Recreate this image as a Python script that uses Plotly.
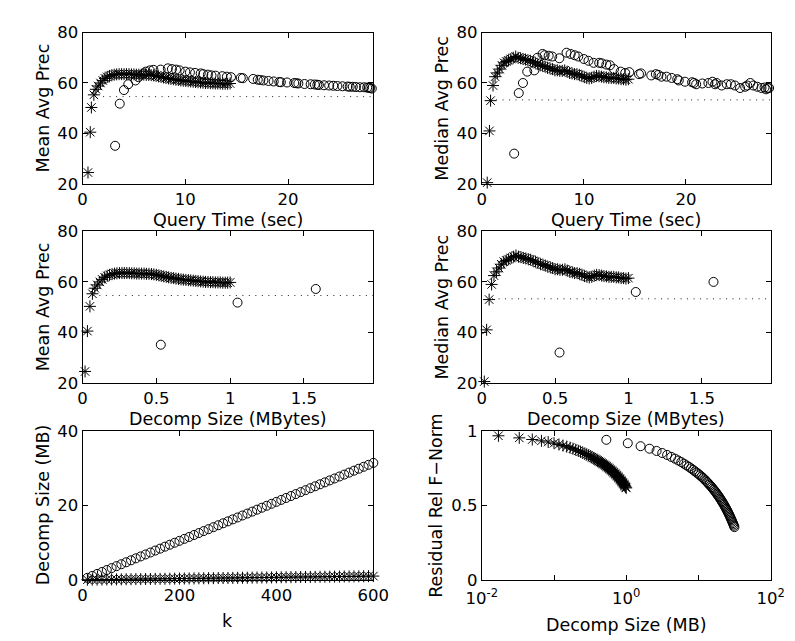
import plotly.graph_objects as go

# ---------------- data ----------------
k = [10, 20, 30, 40, 50, 60, 70, 80, 90, 100, 110, 120, 130, 140, 150, 160, 170, 180, 190, 200,
     210, 220, 230, 240, 250, 260, 270, 280, 290, 300, 310, 320, 330, 340, 350, 360, 370, 380, 390, 400,
     410, 420, 430, 440, 450, 460, 470, 480, 490, 500, 510, 520, 530, 540, 550, 560, 570, 580, 590, 600]

size_star = [0.017, 0.033, 0.050, 0.067, 0.083, 0.100, 0.117, 0.133, 0.150, 0.167,
             0.183, 0.200, 0.217, 0.233, 0.250, 0.267, 0.283, 0.300, 0.317, 0.333,
             0.350, 0.367, 0.383, 0.400, 0.417, 0.433, 0.450, 0.467, 0.483, 0.500,
             0.517, 0.533, 0.550, 0.567, 0.583, 0.600, 0.617, 0.633, 0.650, 0.667,
             0.683, 0.700, 0.717, 0.733, 0.750, 0.767, 0.783, 0.800, 0.817, 0.833,
             0.850, 0.867, 0.883, 0.900, 0.917, 0.933, 0.950, 0.967, 0.983, 1.000]

size_circ = [0.53, 1.05, 1.58, 2.10, 2.63, 3.15, 3.68, 4.20, 4.73, 5.25,
             5.78, 6.30, 6.83, 7.35, 7.88, 8.40, 8.93, 9.45, 9.98, 10.50,
             11.03, 11.55, 12.08, 12.60, 13.13, 13.65, 14.18, 14.70, 15.23, 15.75,
             16.28, 16.80, 17.33, 17.85, 18.38, 18.90, 19.43, 19.95, 20.48, 21.00,
             21.53, 22.05, 22.58, 23.10, 23.63, 24.15, 24.68, 25.20, 25.73, 26.25,
             26.78, 27.30, 27.83, 28.35, 28.88, 29.40, 29.93, 30.45, 30.98, 31.50]

qt_star = [0.53, 0.75, 0.86, 1.10, 1.30, 1.52, 1.75, 1.97, 2.18, 2.40,
           2.62, 2.85, 3.08, 3.32, 3.56, 3.80, 4.04, 4.28, 4.52, 4.76,
           5.00, 5.24, 5.48, 5.72, 5.96, 6.20, 6.44, 6.68, 6.92, 7.16,
           7.40, 7.64, 7.88, 8.12, 8.36, 8.60, 8.84, 9.08, 9.32, 9.56,
           9.80, 10.04, 10.28, 10.52, 10.76, 11.00, 11.24, 11.48, 11.72, 11.96,
           12.20, 12.44, 12.68, 12.92, 13.16, 13.40, 13.64, 13.88, 14.12, 14.36]

qt_circ = [3.17, 3.62, 4.03, 4.45, 5.15, 5.45, 5.95, 6.15, 6.55, 6.90,
           7.60, 8.30, 8.70, 9.10, 9.45, 10.00, 10.45, 10.95, 11.50, 11.75,
           12.20, 12.55, 12.95, 13.60, 14.05, 14.45, 15.40, 15.60, 16.60, 17.05,
           17.30, 17.60, 18.10, 18.60, 19.15, 19.30, 19.90, 20.60, 20.80, 21.00,
           21.60, 22.20, 22.60, 22.85, 23.00, 23.50, 24.00, 24.40, 24.80, 25.30,
           25.80, 26.00, 26.30, 26.60, 27.00, 27.40, 27.70, 27.85, 28.00, 28.15]

map_star = [24.5, 40.5, 50.3, 55.3, 57.5, 58.8, 60.0, 61.0, 61.8, 62.4,
            62.8, 63.1, 63.3, 63.4, 63.5, 63.5, 63.5, 63.5, 63.5, 63.4,
            63.4, 63.3, 63.3, 63.3, 63.3, 63.2, 63.2, 63.1, 63.0, 62.8,
            62.6, 62.4, 62.2, 62.0, 61.8, 61.6, 61.5, 61.3, 61.2, 61.0,
            60.9, 60.8, 60.7, 60.6, 60.5, 60.4, 60.3, 60.2, 60.1, 60.0,
            60.0, 59.9, 59.9, 59.8, 59.8, 59.8, 59.7, 59.7, 59.7, 59.8]

map_circ = [35.1, 51.8, 57.2, 59.5, 61.0, 62.3, 63.8, 64.5, 65.0, 65.2,
            65.3, 65.8, 65.5, 65.3, 65.0, 64.5, 64.2, 64.0, 63.8, 63.5,
            63.3, 63.0, 62.9, 62.7, 62.5, 62.3, 62.0, 61.9, 61.6, 61.3,
            61.2, 61.0, 60.8, 60.6, 60.4, 60.3, 60.2, 60.0, 59.9, 59.8,
            59.6, 59.5, 59.4, 59.3, 59.2, 59.1, 59.0, 58.9, 58.8, 58.7,
            58.6, 58.5, 58.5, 58.4, 58.3, 58.3, 58.2, 58.1, 58.0, 57.8]

med_star = [20.5, 41.0, 53.0, 59.0, 62.5, 64.0, 65.5, 67.0, 68.0, 68.5,
            69.0, 69.5, 70.0, 70.5, 70.0, 69.8, 69.5, 69.3, 69.0, 68.8,
            68.3, 68.0, 67.5, 67.0, 66.8, 66.5, 66.0, 65.8, 65.5, 65.0,
            65.0, 64.8, 64.8, 65.0, 64.5, 64.0, 63.8, 63.5, 63.5, 63.2,
            62.8, 62.3, 62.0, 61.8, 62.0, 62.5, 62.8, 62.7, 62.5, 62.3,
            62.2, 62.0, 62.0, 62.0, 61.8, 61.8, 61.5, 61.5, 61.3, 61.5]

med_circ = [32.0, 56.0, 60.0, 64.5, 65.0, 70.0, 71.5, 71.0, 70.8, 70.5,
            69.8, 72.0, 71.5, 71.0, 70.5, 69.5, 68.8, 68.0, 68.0, 67.8,
            67.3, 67.0, 65.5, 64.5, 64.0, 64.3, 63.5, 63.8, 63.0, 63.5,
            63.2, 62.5, 62.5, 62.0, 61.5, 61.0, 60.5, 60.3, 60.0, 59.5,
            59.8, 60.0, 60.5, 59.5, 60.0, 59.0, 59.5, 59.5, 59.0, 58.0,
            58.5, 59.0, 60.0, 59.0, 58.5, 58.0, 58.2, 57.5, 58.0, 58.0]

res_star = [0.970, 0.956, 0.945, 0.936, 0.928, 0.920, 0.912, 0.904, 0.897, 0.890,
            0.883, 0.876, 0.869, 0.862, 0.856, 0.850, 0.844, 0.838, 0.832, 0.826,
            0.821, 0.815, 0.810, 0.804, 0.799, 0.794, 0.789, 0.784, 0.779, 0.774,
            0.769, 0.764, 0.759, 0.754, 0.749, 0.744, 0.739, 0.734, 0.729, 0.724,
            0.719, 0.714, 0.709, 0.704, 0.699, 0.694, 0.689, 0.684, 0.679, 0.673,
            0.668, 0.663, 0.657, 0.652, 0.646, 0.641, 0.635, 0.630, 0.624, 0.619]

res_circ = [0.943, 0.920, 0.900, 0.883, 0.868, 0.854, 0.841, 0.828, 0.816, 0.804,
            0.793, 0.782, 0.771, 0.761, 0.751, 0.741, 0.731, 0.722, 0.713, 0.704,
            0.695, 0.686, 0.677, 0.668, 0.659, 0.650, 0.641, 0.633, 0.624, 0.615,
            0.607, 0.598, 0.590, 0.581, 0.573, 0.564, 0.556, 0.547, 0.539, 0.530,
            0.522, 0.513, 0.505, 0.496, 0.488, 0.479, 0.471, 0.462, 0.453, 0.445,
            0.436, 0.427, 0.418, 0.409, 0.400, 0.391, 0.382, 0.373, 0.364, 0.355]

map_base = 54.6
med_base = 53.3
base_x_qt_mean = [2.0, 28.3]
base_x_qt_med = [1.4, 28.3]
base_x_size = [0.07, 1.97]

# ---------------- styling ----------------
W, H = 795, 641
FONT = "DejaVu Sans"
FS_TICK = 16.5
FS_TITLE = 17.5


def xd(a, b):
    return [a / W, b / W]


def yd(top, bot):
    return [1 - bot / H, 1 - top / H]


def axis(domain, rng, tickvals, anchor, ticktext=None, typ="linear", minor=None):
    d = dict(domain=domain, range=rng, tickvals=tickvals, anchor=anchor, type=typ,
             showgrid=False, zeroline=False, showline=True, linecolor="black",
             linewidth=1, mirror="ticks", ticks="inside", ticklen=5, tickwidth=1,
             tickcolor="black", tickfont=dict(family=FONT, size=FS_TICK, color="black"))
    if ticktext is not None:
        d["ticktext"] = ticktext
    if minor is not None:
        d["minor"] = dict(tickvals=minor, ticks="inside", ticklen=5, tickwidth=1,
                          tickcolor="black", showgrid=False)
    return d


def stars(x, y, n):
    return go.Scatter(x=x, y=y, mode="markers", xaxis="x" + n, yaxis="y" + n,
                      cliponaxis=False, showlegend=False,
                      marker=dict(symbol="asterisk-open", size=10, color="black",
                                  line=dict(color="black", width=1)))


def circles(x, y, n):
    return go.Scatter(x=x, y=y, mode="markers", xaxis="x" + n, yaxis="y" + n,
                      cliponaxis=False, showlegend=False,
                      marker=dict(symbol="circle-open", size=9, color="black",
                                  line=dict(color="black", width=1)))


def base(xs, yv, n):
    return go.Scatter(x=xs, y=[yv, yv], mode="lines", xaxis="x" + n, yaxis="y" + n,
                      showlegend=False, line=dict(color="#222222", width=1, dash="1px,5.5px"))


fig = go.Figure()
# 1: top-left
fig.add_trace(stars(qt_star, map_star, ""))
fig.add_trace(circles(qt_circ, map_circ, ""))
fig.add_trace(base(base_x_qt_mean, map_base, ""))
# 2: top-right
fig.add_trace(stars(qt_star, med_star, "2"))
fig.add_trace(circles(qt_circ, med_circ, "2"))
fig.add_trace(base(base_x_qt_med, med_base, "2"))
# 3: mid-left
fig.add_trace(stars(size_star, map_star, "3"))
fig.add_trace(circles(size_circ, map_circ, "3"))
fig.add_trace(base(base_x_size, map_base, "3"))
# 4: mid-right
fig.add_trace(stars(size_star, med_star, "4"))
fig.add_trace(circles(size_circ, med_circ, "4"))
fig.add_trace(base(base_x_size, med_base, "4"))
# 5: bottom-left
fig.add_trace(stars(k, size_star, "5"))
fig.add_trace(circles(k, size_circ, "5"))
# 6: bottom-right
fig.add_trace(stars(size_star, res_star, "6"))
fig.add_trace(circles(size_circ, res_circ, "6"))

c1 = xd(61, 364)
c2 = xd(477, 778)
r1 = yd(16, 172)
r2 = yd(221, 377)
r3 = yd(427, 580)

lay = dict(
    width=W, height=H, margin=dict(l=0, r=0, t=0, b=0),
    paper_bgcolor="white", plot_bgcolor="white", showlegend=False,
    font=dict(family=FONT, size=FS_TICK, color="black"),
    xaxis=axis(c1, [0, 28.3], [0, 10, 20], "y"),
    yaxis=axis(r1, [20, 80], [20, 40, 60, 80], "x"),
    xaxis2=axis(c2, [0, 28.3], [0, 10, 20], "y2"),
    yaxis2=axis(r1, [20, 80], [20, 40, 60, 80], "x2"),
    xaxis3=axis(c1, [0, 1.97], [0, 0.5, 1, 1.5], "y3"),
    yaxis3=axis(r2, [20, 80], [20, 40, 60, 80], "x3"),
    xaxis4=axis(c2, [0, 1.97], [0, 0.5, 1, 1.5], "y4"),
    yaxis4=axis(r2, [20, 80], [20, 40, 60, 80], "x4"),
    xaxis5=axis(c1, [0, 600], [0, 200, 400, 600], "y5"),
    yaxis5=axis(r3, [0, 40], [0, 20, 40], "x5"),
    xaxis6=axis(c2, [-2, 2], [0.01, 1, 100], "y6",
                ticktext=["10<sup>-2</sup>", "10<sup>0</sup>", "10<sup>2</sup>"], typ="log",
                minor=[0.1, 10]),
    yaxis6=axis(r3, [0, 1], [0, 0.5, 1], "x6"),
)
lay["xaxis6"]["ticklabelstandoff"] = 3
fig.update_layout(**lay)


def ann(text, px, py, angle=0):
    fig.add_annotation(text=text, x=px / W, y=1 - py / H, xref="paper", yref="paper",
                       showarrow=False, xanchor="center", yanchor="middle", textangle=angle,
                       font=dict(family=FONT, size=FS_TITLE, color="black"))


ann("Query Time (sec)", 212.5, 209)
ann("Query Time (sec)", 627.5, 209)
ann("Decomp Size (MBytes)", 212.5, 414)
ann("Decomp Size (MBytes)", 627.5, 414)
ann("k", 212.5, 622)
ann("Decomp Size (MB)", 627.5, 627)
ann("Mean Avg Prec", 20, 94, -90)
ann("Median Avg Prec", 436, 94, -90)
ann("Mean Avg Prec", 20, 299, -90)
ann("Median Avg Prec", 436, 299, -90)
ann("Decomp Size (MB)", 20, 503, -90)
ann("Residual Rel F\u2212Norm", 429, 503, -90)

fig.write_html("out.html")
